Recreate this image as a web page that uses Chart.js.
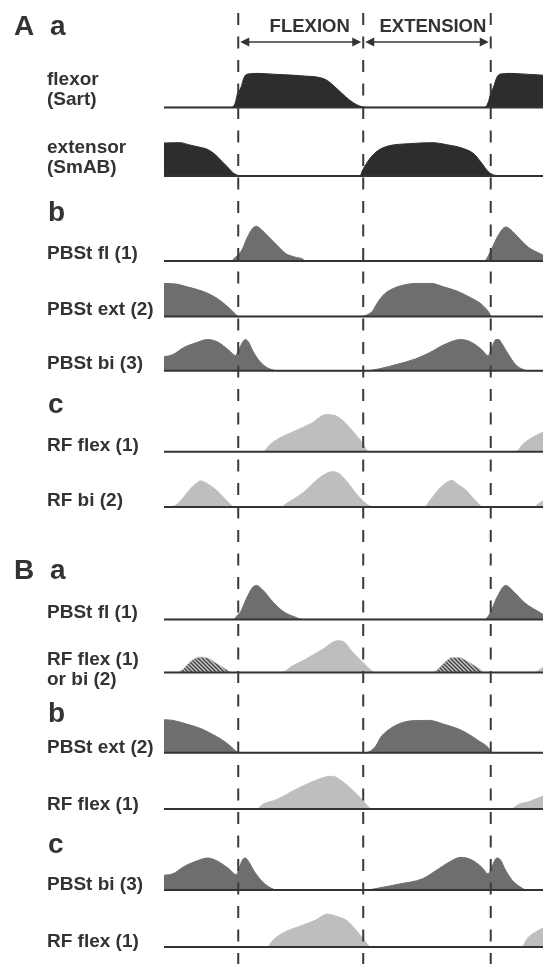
<!DOCTYPE html>
<html>
<head>
<meta charset="utf-8">
<script src="https://cdn.jsdelivr.net/npm/chart.js@4/dist/chart.umd.min.js"></script>
<style>
  body { margin: 0; background: #fff; }
  #wrap { position: relative; width: 543px; height: 964px; }
</style>
</head>
<body>
<div id="wrap"><canvas id="fig"></canvas></div>
<script>
// time is in step cycles (0 = flexion onset), values are normalised activity
const PHASE_MARKS = [0, 0.495, 1.0];
const PHASE_NAMES = ['FLEXION', 'EXTENSION'];
const PHASE_NAME_AT = [0.283, 0.771];

const sart = [[-0.295,0],[-0.027,0],[-0.011,0.15],[-0.003,0.41],[0.010,0.57],[0.023,0.88],[0.037,0.98],[0.078,1.0],[0.154,0.97],[0.250,0.93],[0.346,0.82],[0.373,0.67],[0.408,0.43],[0.442,0.21],[0.469,0.08],[0.490,0.02],[0.510,0],[0.977,0],[0.990,0.15],[1.000,0.41],[1.011,0.60],[1.024,0.88],[1.038,0.98],[1.079,1.0],[1.154,0.97],[1.250,0.93]];
const smab = [[-0.295,0.97],[-0.230,0.98],[-0.196,0.92],[-0.155,0.85],[-0.121,0.78],[-0.093,0.64],[-0.066,0.44],[-0.038,0.23],[-0.018,0.08],[0.003,0.01],[0.017,0],[0.483,0],[0.490,0.13],[0.503,0.31],[0.524,0.54],[0.552,0.74],[0.593,0.88],[0.675,0.95],[0.771,0.98],[0.826,0.92],[0.895,0.80],[0.935,0.64],[0.963,0.39],[0.990,0.13],[1.011,0.03],[1.032,0.01],[1.086,0],[1.25,0]];
const pbstFl = [[-0.295,0],[-0.027,0],[-0.013,0.10],[0.003,0.20],[0.017,0.36],[0.037,0.71],[0.058,0.97],[0.072,1.02],[0.092,0.92],[0.120,0.71],[0.154,0.46],[0.188,0.22],[0.222,0.12],[0.257,0.05],[0.264,0],[0.976,0],[0.990,0.15],[1.004,0.36],[1.031,0.77],[1.059,1.0],[1.079,0.92],[1.107,0.71],[1.148,0.41],[1.200,0.20],[1.222,0.12],[1.257,0.05],[1.264,0]];
const pbstExt = [[-0.295,0.97],[-0.244,0.95],[-0.203,0.87],[-0.162,0.79],[-0.121,0.68],[-0.080,0.51],[-0.038,0.26],[-0.011,0.07],[0.000,0],[0.483,0],[0.511,0.05],[0.531,0.15],[0.552,0.41],[0.579,0.66],[0.620,0.84],[0.675,0.95],[0.717,0.97],[0.765,0.97],[0.813,0.87],[0.868,0.74],[0.923,0.54],[0.963,0.36],[0.990,0.15],[1.004,0],[1.25,0]];
const pbstBi = [[-0.295,0.41],[-0.258,0.48],[-0.217,0.68],[-0.169,0.82],[-0.121,0.92],[-0.080,0.84],[-0.038,0.61],[-0.011,0.45],[0.000,0.58],[0.017,0.84],[0.028,0.92],[0.041,0.84],[0.058,0.58],[0.085,0.28],[0.113,0.10],[0.140,0.02],[0.154,0],[0.503,0],[0.565,0.07],[0.634,0.20],[0.702,0.35],[0.757,0.53],[0.813,0.76],[0.881,0.92],[0.923,0.84],[0.963,0.63],[0.990,0.45],[1.004,0.68],[1.021,0.92],[1.032,0.92],[1.045,0.79],[1.066,0.53],[1.100,0.17],[1.128,0.04],[1.148,0],[1.25,0]];
const rfFlex = [[-0.295,0],[0.100,0],[0.120,0.17],[0.154,0.36],[0.222,0.60],[0.291,0.84],[0.346,1.09],[0.380,1.07],[0.415,0.91],[0.456,0.58],[0.490,0.28],[0.517,0],[1.100,0],[1.127,0.22],[1.168,0.43],[1.207,0.58],[1.25,0.75]];
const rfBi = [[-0.295,0],[-0.258,0.02],[-0.230,0.17],[-0.196,0.48],[-0.169,0.68],[-0.148,0.77],[-0.121,0.68],[-0.087,0.50],[-0.052,0.24],[-0.022,0.02],[-0.011,0],[0.167,0],[0.194,0.12],[0.263,0.46],[0.318,0.84],[0.373,1.04],[0.394,1.01],[0.428,0.77],[0.469,0.38],[0.503,0.12],[0.538,0],[0.737,0],[0.757,0.17],[0.792,0.50],[0.826,0.73],[0.847,0.78],[0.867,0.68],[0.901,0.50],[0.936,0.22],[0.970,0],[1.167,0],[1.194,0.12],[1.263,0.46]];
const bPbstFl = [[-0.295,0],[-0.020,0],[-0.002,0.13],[0.010,0.23],[0.031,0.59],[0.058,0.95],[0.072,1.0],[0.099,0.85],[0.140,0.49],[0.181,0.22],[0.222,0.08],[0.257,0],[0.976,0],[0.997,0.18],[1.024,0.64],[1.059,1.0],[1.093,0.80],[1.134,0.49],[1.200,0.18],[1.222,0.08],[1.257,0]];
const bRfFlex = [[-0.295,0],[0.174,0],[0.208,0.16],[0.263,0.37],[0.332,0.67],[0.394,0.93],[0.415,0.91],[0.456,0.57],[0.497,0.27],[0.545,0],[1.174,0],[1.208,0.16],[1.263,0.37]];
const bRfBi = [[-0.295,0],[-0.244,0],[-0.217,0.11],[-0.189,0.32],[-0.155,0.45],[-0.121,0.42],[-0.087,0.27],[-0.052,0.11],[-0.025,0],[0.771,0],[0.799,0.16],[0.826,0.35],[0.847,0.44],[0.874,0.44],[0.909,0.32],[0.950,0.13],[0.977,0],[1.25,0]];
const bPbstExt = [[-0.295,0.97],[-0.258,0.95],[-0.203,0.84],[-0.148,0.71],[-0.107,0.56],[-0.066,0.39],[-0.032,0.20],[-0.004,0.02],[0.005,0],[0.497,0],[0.524,0.05],[0.545,0.20],[0.565,0.46],[0.593,0.66],[0.634,0.84],[0.689,0.94],[0.757,0.95],[0.813,0.84],[0.868,0.71],[0.909,0.56],[0.950,0.36],[0.990,0.15],[1.004,0],[1.25,0]];
const bRfFlex2 = [[-0.295,0],[0.072,0],[0.099,0.14],[0.154,0.28],[0.222,0.55],[0.291,0.79],[0.346,0.94],[0.373,0.96],[0.415,0.79],[0.456,0.53],[0.490,0.28],[0.531,0],[1.079,0],[1.113,0.14],[1.154,0.22],[1.207,0.38],[1.25,0.5]];
const cPbstBi = [[-0.295,0.43],[-0.258,0.48],[-0.217,0.68],[-0.162,0.86],[-0.121,0.94],[-0.080,0.84],[-0.038,0.63],[-0.007,0.45],[0.003,0.63],[0.017,0.89],[0.028,0.94],[0.041,0.84],[0.065,0.53],[0.099,0.22],[0.140,0.02],[0.154,0],[0.503,0],[0.565,0.07],[0.634,0.17],[0.730,0.33],[0.785,0.58],[0.840,0.84],[0.881,0.96],[0.923,0.89],[0.963,0.68],[0.990,0.48],[1.004,0.68],[1.024,0.94],[1.038,0.89],[1.059,0.58],[1.086,0.28],[1.121,0.07],[1.141,0],[1.25,0]];
const cRfFlex = [[-0.295,0],[0.113,0],[0.140,0.22],[0.181,0.43],[0.250,0.63],[0.305,0.79],[0.353,0.97],[0.387,0.91],[0.428,0.79],[0.469,0.48],[0.497,0.22],[0.527,0],[1.121,0],[1.148,0.28],[1.182,0.46],[1.207,0.56],[1.25,0.7]];

const ROW_LABELS = [['flexor','(Sart)'], ['extensor','(SmAB)'], ['PBSt fl (1)'], ['PBSt ext (2)'], ['PBSt bi (3)'],
  ['RF flex (1)'], ['RF bi (2)'], ['PBSt fl (1)'], ['RF flex (1)','or bi (2)'], ['PBSt ext (2)'], ['RF flex (1)'],
  ['PBSt bi (3)'], ['RF flex (1)']];

// layout (pixels)
const W = 543, H = 964, PLOT_LEFT = 164, AMP_PX = 34;
const X_MIN = -0.294, X_MAX = 1.207;
const ROW_BASE = [107.4, 176, 261, 316.4, 370.8, 451.7, 507.1, 619.4, 672.4, 752.7, 808.9, 890, 947.1];
const LABEL_Y = [85, 153, 259, 315, 369, 451, 506, 618, 665, 753, 810, 890, 947];
const HEADINGS = [['A', 'a', 34.6], ['', 'b', 221], ['', 'c', 413], ['B', 'a', 578.5], ['', 'b', 721.6], ['', 'c', 853]];

const INK = '#333333', BLACK = '#2d2d2d', DARK = '#6d6e70', LIGHT = '#bdbec0';

function hatchPattern() {
  const c = document.createElement('canvas');
  c.width = 4; c.height = 4;
  const g = c.getContext('2d');
  g.fillStyle = '#c6c6c6';
  g.fillRect(0, 0, 4, 4);
  g.strokeStyle = '#3f3f3f';
  g.lineWidth = 1.3;
  g.beginPath();
  g.moveTo(-1, -1); g.lineTo(5, 5);
  g.moveTo(-2, 2); g.lineTo(2, 6);
  g.moveTo(2, -2); g.lineTo(6, 2);
  g.stroke();
  return g.createPattern(c, 'repeat');
}

function trace(points, row, color) {
  return {
    data: points.map(p => ({ x: p[0], y: p[1] })),
    yAxisID: 'y' + row,
    backgroundColor: color,
    borderColor: typeof color === 'string' ? color : '#c6c6c6',
    borderWidth: 1,
    fill: 'origin',
    pointRadius: 0,
    cubicInterpolationMode: 'monotone'
  };
}

const datasets = [
  trace(sart, 0, BLACK), trace(smab, 1, BLACK),
  trace(pbstFl, 2, DARK), trace(pbstExt, 3, DARK), trace(pbstBi, 4, DARK),
  trace(rfFlex, 5, LIGHT), trace(rfBi, 6, LIGHT),
  trace(bPbstFl, 7, DARK), trace(bRfFlex, 8, LIGHT), trace(bRfBi, 8, hatchPattern()),
  trace(bPbstExt, 9, DARK), trace(bRfFlex2, 10, LIGHT),
  trace(cPbstBi, 11, DARK), trace(cRfFlex, 12, LIGHT)
];

const scales = { x: { type: 'linear', min: X_MIN, max: X_MAX, display: false } };
ROW_BASE.forEach((b, i) => {
  scales['y' + i] = { type: 'linear', display: false, min: -(H - b) / AMP_PX, max: b / AMP_PX };
});

function arrowHead(ctx, x, y, dir) {
  ctx.beginPath();
  ctx.moveTo(x, y);
  ctx.lineTo(x - dir * 9, y - 4.5);
  ctx.lineTo(x - dir * 9, y + 4.5);
  ctx.closePath();
  ctx.fill();
}

const decor = {
  id: 'decor',
  afterDatasetsDraw(chart) {
    const { ctx, chartArea, scales } = chart;
    ctx.save();
    // row baselines
    ctx.strokeStyle = INK;
    ctx.lineWidth = 2;
    ROW_BASE.forEach((_, i) => {
      const y = scales['y' + i].getPixelForValue(0);
      ctx.beginPath();
      ctx.moveTo(chartArea.left, y);
      ctx.lineTo(chartArea.right, y);
      ctx.stroke();
    });
    // dashed phase transitions
    ctx.strokeStyle = '#3a3a3a';
    ctx.setLineDash([12, 11.5]);
    PHASE_MARKS.forEach(t => {
      const x = scales.x.getPixelForValue(t);
      ctx.beginPath();
      ctx.moveTo(x, 13);
      ctx.lineTo(x, H);
      ctx.stroke();
    });
    ctx.setLineDash([]);
    // phase arrows and names
    ctx.fillStyle = INK;
    ctx.lineWidth = 1.3;
    for (let i = 0; i < PHASE_NAMES.length; i++) {
      const x0 = scales.x.getPixelForValue(PHASE_MARKS[i]) + 2;
      const x1 = scales.x.getPixelForValue(PHASE_MARKS[i + 1]) - 2;
      ctx.beginPath();
      ctx.moveTo(x0 + 4, 42);
      ctx.lineTo(x1 - 4, 42);
      ctx.stroke();
      arrowHead(ctx, x0, 42, -1);
      arrowHead(ctx, x1, 42, 1);
      ctx.font = 'bold 18.5px "Liberation Sans", Arial, sans-serif';
      ctx.textAlign = 'center';
      ctx.textBaseline = 'alphabetic';
      ctx.fillText(PHASE_NAMES[i], scales.x.getPixelForValue(PHASE_NAME_AT[i]), 31.5);
    }
    // row labels
    ctx.textAlign = 'left';
    ctx.font = 'bold 19px "Liberation Sans", Arial, sans-serif';
    ROW_LABELS.forEach((lines, i) => {
      lines.forEach((s, k) => ctx.fillText(s, 47, LABEL_Y[i] + k * 20));
    });
    // panel headings
    ctx.font = 'bold 28px "Liberation Sans", Arial, sans-serif';
    HEADINGS.forEach(([big, small, y]) => {
      if (big) ctx.fillText(big, 14, y);
      ctx.fillText(small, big ? 50 : 48, y);
    });
    ctx.restore();
  }
};

new Chart(document.getElementById('fig'), {
  type: 'line',
  data: { datasets },
  options: {
    responsive: true,
    maintainAspectRatio: false,
    animation: false,
    events: [],
    layout: { padding: { left: PLOT_LEFT, right: 0, top: 0, bottom: 0 } },
    plugins: { legend: { display: false }, tooltip: { enabled: false } },
    scales
  },
  plugins: [decor]
});
</script>
</body>
</html>
